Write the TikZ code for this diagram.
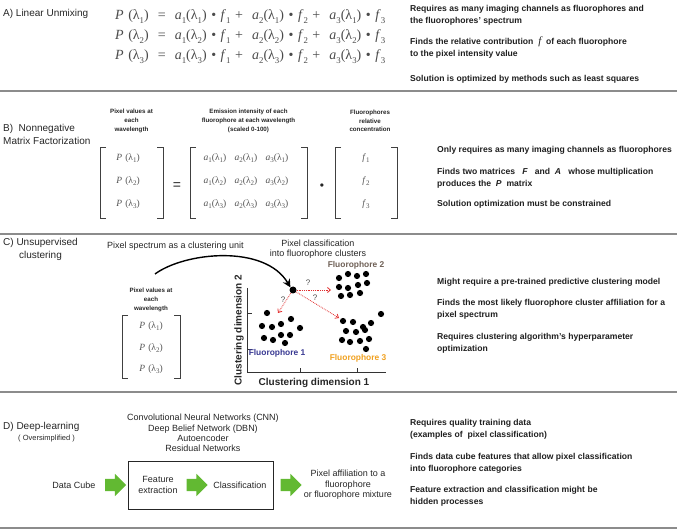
\documentclass[tikz,border=0pt]{standalone}
\usepackage{fontspec}
\setmainfont{Liberation Sans}
\newfontfamily\eqfont{Liberation Serif}
\usetikzlibrary{arrows.meta,shapes.arrows}
\definecolor{sepgray}{RGB}{140,140,140}
\definecolor{eqgray}{RGB}{75,75,75}
\definecolor{mgray}{RGB}{85,85,85}
\definecolor{fgreen}{RGB}{98,185,50}
\definecolor{fblue}{RGB}{55,55,145}
\definecolor{forange}{RGB}{240,160,30}
\definecolor{fbrown}{RGB}{110,95,85}
\definecolor{qred}{RGB}{225,45,45}
\newcommand\lsb[1]{\raisebox{-0.5ex}{\scriptsize #1}}
\newcommand\Pl[1]{\textit{P}\,\,(λ\lsb{#1})}
\newcommand\al[2]{\textit{a}\lsb{#1}(λ\lsb{#2})}
\newcommand\fl[1]{\textit{f}\lsb{#1}}
\newcommand\esb[1]{\raisebox{-0.6ex}{\fontsize{8.8}{9}\selectfont #1}}
\newcommand\eqrow[1]{\makebox[270pt][s]{\textit{P} (λ\esb{#1}) \ = \ \textit{a}\esb{1}(λ\esb{#1}) • \textit{f}\esb{1} + \ \textit{a}\esb{2}(λ\esb{#1}) • \textit{f}\esb{2} + \ \textit{a}\esb{3}(λ\esb{#1}) • \textit{f}\esb{3}}}
\begin{document}
\begin{tikzpicture}[x=1pt,y=-1pt,
  secl/.style={anchor=west,inner sep=0pt,font=\fontsize{10}{13}\selectfont,text=black!85},
  rtxt/.style={anchor=west,inner sep=0pt,align=left,font=\bfseries\fontsize{8.6}{12}\selectfont,text=black!88},
  hdr/.style={inner sep=0pt,align=center,font=\bfseries\fontsize{6.2}{8.6}\selectfont,text=black!85},
  eqn/.style={anchor=west,inner sep=0pt,font=\eqfont\fontsize{14}{15}\selectfont,text=eqgray},
  ment/.style={inner sep=0pt,font=\eqfont\fontsize{9.5}{11}\selectfont,text=mgray},
  brk/.style={draw=black!75,line width=0.9pt},
  sep/.style={draw=sepgray,line width=1.1pt},
  plain/.style={inner sep=0pt,align=center,font=\fontsize{9}{10.5}\selectfont,text=black!85},
  garrow/.style={single arrow,fill=fgreen,draw=none,inner xsep=0pt,inner ysep=6pt,minimum width=0pt,minimum height=21pt,single arrow head extend=5pt},
  dotc/.style={circle,fill=black,inner sep=0pt,minimum size=6pt},
  qarrow/.style={draw=qred,densely dotted,line width=0.8pt,-{Straight Barb[length=3pt,width=5pt]}},
  qlab/.style={inner sep=0pt,font=\fontsize{8}{9}\selectfont,text=black!70},
  flab/.style={inner sep=0pt,font=\bfseries\fontsize{8.4}{9}\selectfont}
]
\useasboundingbox (0,0) rectangle (680,529);
% separators
\draw[sep] (0,91) -- (677,91);
\draw[sep] (0,234) -- (677,234);
\draw[sep] (0,392) -- (677,392);
\draw[sep] (0,528) -- (677,528);

% ---------- A ----------
\node[secl] (la) at (3,14) {A) Linear Unmixing};
\node[eqn] (e1) at (115,17) {\eqrow{1}};
\node[eqn] (e2) at (115,37) {\eqrow{2}};
\node[eqn] (e3) at (115,57) {\eqrow{3}};
\node[rtxt] (ra1) at (410,15) {Requires as many imaging channels as fluorophores and\\the fluorophores' spectrum};
\node[rtxt] (ra2) at (410,48) {Finds the relative contribution \ {\eqfont\mdseries\itshape\fontsize{11}{12}\selectfont f} \ of each fluorophore\\to the pixel intensity value};
\node[rtxt] (ra3) at (410,79) {Solution is optimized by methods such as least squares};

% ---------- B ----------
\node[secl,align=left] (lb) at (3,134) {B)\ \ Nonnegative\\Matrix Factorization};
\node[hdr] (hb1) at (131.5,121) {Pixel values at\\each\\wavelength};
\node[hdr] (hb2) at (248.5,121) {Emission intensity of each\\fluorophore at each wavelength\\(scaled 0-100)};
\node[hdr] (hb3) at (370,121) {Fluorophores\\relative\\concentration};
% brackets
\draw[brk] (106,147) -- (100,147) -- (100,218) -- (106,218);
\draw[brk] (157,147) -- (163,147) -- (163,218) -- (157,218);
\draw[brk] (196,147) -- (190,147) -- (190,218) -- (196,218);
\draw[brk] (301,147) -- (307,147) -- (307,218) -- (301,218);
\draw[brk] (341,147) -- (335,147) -- (335,218) -- (341,218);
\draw[brk] (391,147) -- (397,147) -- (397,218) -- (391,218);
\foreach \r/\y in {1/158,2/181,3/204}{
  \node[ment] (bp\r) at (128,\y) {\Pl{\r}};
  \node[ment] (ba1\r) at (215,\y) {\al{1}{\r}};
  \node[ment] (ba2\r) at (246,\y) {\al{2}{\r}};
  \node[ment] (ba3\r) at (277,\y) {\al{3}{\r}};
  \node[ment] (bf\r) at (366,\y) {\fl{\r}};
}
\node[inner sep=0pt,font=\fontsize{14}{14}\selectfont,text=black!85] (beq) at (177,186) {=};
\node[inner sep=0pt,font=\fontsize{12}{12}\selectfont,text=black!85] (bdot) at (322,187) {•};
\node[rtxt] (rb1) at (437,150) {Only requires as many imaging channels as fluorophores};
\node[rtxt] (rb2) at (437,178) {Finds two matrices \ \ \textit{F} \ \ and \ \textit{A} \ \ whose multiplication\\produces the \ \textit{P} \ matrix};
\node[rtxt] (rb3) at (437,204) {Solution optimization must be constrained};

% ---------- C ----------
\node[secl,align=center] (lc) at (3,249) {C) Unsupervised\\clustering};
\node[plain,anchor=west] (cspec) at (107,246) {Pixel spectrum as a clustering unit};
\node[plain] (cclass) at (318,249) {Pixel classification\\into fluorophore clusters};
\node[hdr] (hc1) at (151,300) {Pixel values at\\each\\wavelength};
\draw[brk] (128,315) -- (122,315) -- (122,378) -- (128,378);
\draw[brk] (174,315) -- (180,315) -- (180,378) -- (174,378);
\foreach \r/\y in {1/326,2/348,3/369}{
  \node[ment] (cp\r) at (151,\y) {\Pl{\r}};
}
% axes
\coordinate (ytop) at (247,288);
\coordinate (orig) at (247,372);
\coordinate (xend) at (386,372);
\draw[black!80,line width=0.8pt] (ytop) -- (orig) -- (xend);
\draw[black!80,line width=0.6pt] (247,313) -- (252,313) (247,349) -- (252,349) (300,372) -- (300,368) (357,372) -- (357,368);
\node[inner sep=0pt,rotate=90,font=\bfseries\fontsize{10}{10}\selectfont,text=black!85] (cd2) at (239,330) {Clustering dimension 2};
\node[inner sep=0pt,font=\bfseries\fontsize{10}{10}\selectfont,text=black!85] (cd1) at (314,383) {Clustering dimension 1};
% pixel
\node[dotc,minimum size=7pt] (px) at (293,290) {};
% clusters
\foreach \p in {(339,278),(348,274),(357,276),(366,274),(339,287),(348,288),(358,285),(367,283),(341,296),(350,295),(360,293)}{\fill \p circle (3.1);}
\foreach \p in {(267,313),(262,326),(272,327),(281,324),(291,319),(300,328),(264,338),(273,340),(281,335),(290,335),(285,343)}{\fill \p circle (3.1);}
\foreach \p in {(343,321),(353,322),(363,327),(371,323),(381,314),(346,331),(356,332),(365,330),(342,340),(350,342),(360,341),(369,339),(366,349)}{\fill \p circle (3.1);}
\node[flab,text=fbrown] (fl2) at (356,265) {Fluorophore 2};
\node[flab,text=fblue] (fl1) at (277,353) {Fluorophore 1};
\node[flab,text=forange] (fl3) at (358,358) {Fluorophore 3};
% targets
\coordinate (t2) at (331,290);
\coordinate (t1) at (278,313);
\coordinate (t3) at (339,318);
\draw[qarrow] (px) -- (t2);
\draw[qarrow] (px) -- (t1);
\draw[qarrow] (px) -- (t3);
\node[qlab] (q2) at (308,283) {?};
\node[qlab] (q1) at (283,300) {?};
\node[qlab] (q3) at (315,298) {?};
% curved arrow
\coordinate (cstart) at (155,274);
\draw[line width=1.4pt,-{Stealth[length=8pt,width=8pt]}] (cstart) .. controls (185,252) and (265,244) .. (px.north west);
\node[rtxt] (rc1) at (437,282) {Might require a pre-trained predictive clustering model};
\node[rtxt] (rc2) at (437,309) {Finds the most likely fluorophore cluster affiliation for a\\pixel spectrum};
\node[rtxt] (rc3) at (437,343) {Requires clustering algorithm's hyperparameter\\optimization};

% ---------- D ----------
\node[secl] (ld) at (3,427) {D) Deep-learning};
\node[inner sep=0pt,anchor=west,font=\fontsize{7.5}{9}\selectfont,text=black!85] (ldo) at (18,439) {( Oversimplified )};
\node[plain,font=\fontsize{9}{10.2}\selectfont] (nets) at (203,433) {Convolutional Neural Networks (CNN)\\Deep Belief Network (DBN)\\Autoencoder\\Residual Networks};
\node[draw=black!85,line width=1pt,minimum width=145pt,minimum height=48pt,inner sep=0pt] (box) at (200.5,485) {};
\node[plain] (dc) at (74,485) {Data Cube};
\node[plain] (fe) at (158,485) {Feature\\extraction};
\node[plain] (cl) at (240,485) {Classification};
\node[plain] (pa) at (348,485) {Pixel affiliation to a\\fluorophore\\or fluorophore mixture};
\node[garrow] (g1) at (112.5,485) {};
\node[garrow] (g2) at (194,485) {};
\node[garrow] (g3) at (288,485) {};
\node[rtxt] (rd1) at (410,429) {Requires quality training data\\(examples of \ pixel classification)};
\node[rtxt] (rd2) at (410,463) {Finds data cube features that allow pixel classification\\into fluorophore categories};
\node[rtxt] (rd3) at (410,496) {Feature extraction and classification might be\\hidden processes};
\end{tikzpicture}
\end{document}
